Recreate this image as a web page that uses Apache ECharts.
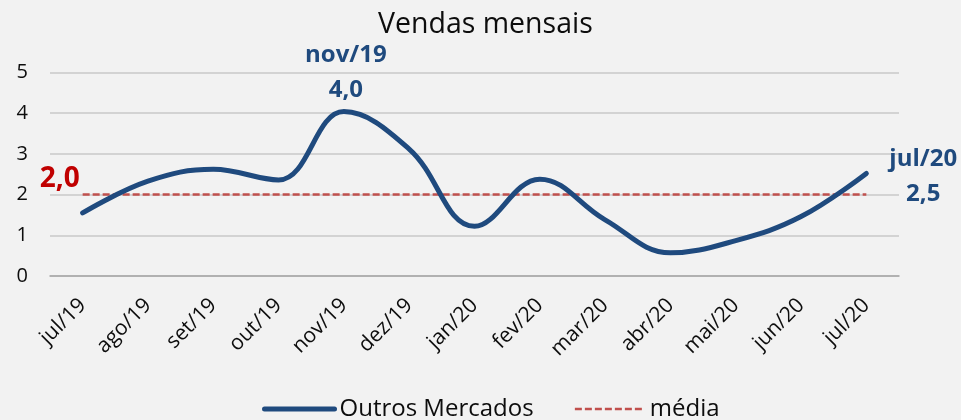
<!DOCTYPE html>
<html>
<head>
<meta charset="utf-8">
<script src="https://cdn.jsdelivr.net/npm/echarts@6/dist/echarts.min.js"></script>
<style>
html,body{margin:0;padding:0;background:#f2f2f2;}
#chart{width:961px;height:420px;}
</style>
</head>
<body>
<div id="chart"></div>
<script>
const categories = ['jul/19','ago/19','set/19','out/19','nov/19','dez/19','jan/20','fev/20','mar/20','abr/20','mai/20','jun/20','jul/20'];
const outrosMercados = [1.55, 2.33, 2.62, 2.36, 4.04, 3.12, 1.22, 2.38, 1.38, 0.57, 0.87, 1.46, 2.52];
const media = [2.0, 2.0, 2.0, 2.0, 2.0, 2.0, 2.0, 2.0, 2.0, 2.0, 2.0, 2.0, 2.0];
const yTicks = [0, 1, 2, 3, 4, 5];

const FONT = 'Open Sans';
const BLUE = '#1f4a7e';
const fmt = v => v.toFixed(1).replace('.', ',');

const chart = echarts.init(document.getElementById('chart'), null, {renderer: 'canvas'});

const blueData = outrosMercados.map((v, i) => {
  if (i === 4) {
    return {value: v, label: {show: true, position: 'top', distance: 4, offset: [2, 0],
      formatter: () => '{a|' + categories[i] + '}\n{a|' + fmt(v) + '}'}};
  }
  if (i === outrosMercados.length - 1) {
    return {value: v, label: {show: true, position: 'right', distance: 23, offset: [0, 3],
      formatter: () => '{a|' + categories[i] + '}\n{a|' + fmt(v) + '}'}};
  }
  return v;
});

const redData = media.map((v, i) => {
  if (i === 0) {
    return {value: v, label: {show: true, position: 'left', distance: 3, offset: [0, -16],
      formatter: () => fmt(v), color: '#c00000', fontSize: 28, fontWeight: 'bold', fontFamily: FONT}};
  }
  return v;
});

chart.setOption({
  backgroundColor: '#f2f2f2',
  animation: false,
  textStyle: {fontFamily: FONT},
  title: {
    text: 'Vendas mensais',
    left: 373,
    top: 5,
    textStyle: {fontFamily: FONT, fontSize: 28.5, fontWeight: 'normal', color: '#0d0d0d'}
  },
  legend: {
    bottom: -6,
    left: 257,
    itemWidth: 70,
    itemHeight: 14,
    itemGap: 40,
    itemStyle: {opacity: 0, borderWidth: 0},
    textStyle: {fontFamily: FONT, fontSize: 24, color: '#0d0d0d'},
    data: [
      {name: 'Outros Mercados', lineStyle: {width: 5}},
      {name: 'média', lineStyle: {width: 2.5}}
    ]
  },
  grid: {left: 50, right: 62, top: 72.5, bottom: 144, containLabel: false},
  xAxis: {
    type: 'category',
    data: categories,
    boundaryGap: true,
    axisLine: {show: true, lineStyle: {color: '#a6a6a6', width: 1.5}},
    axisTick: {show: false},
    axisLabel: {rotate: 45, margin: 26, interval: 0, fontFamily: FONT, fontSize: 21, color: '#0d0d0d'}
  },
  yAxis: {
    type: 'value',
    min: yTicks[0],
    max: yTicks[yTicks.length - 1],
    interval: 1,
    axisLine: {show: false},
    axisTick: {show: false},
    axisLabel: {margin: 22, fontFamily: FONT, fontSize: 20, color: '#0d0d0d'},
    splitLine: {lineStyle: {color: '#c8c8c8', width: 1.5}}
  },
  series: [
    {
      name: 'Outros Mercados',
      type: 'line',
      data: blueData,
      smooth: 0.4,
      symbol: 'circle',
      symbolSize: 0,
      showSymbol: true,
      lineStyle: {color: BLUE, width: 5, cap: 'round'},
      itemStyle: {color: BLUE},
      label: {
        show: false,
        rich: {a: {fontFamily: FONT, fontSize: 24, fontWeight: 'bold', color: BLUE, lineHeight: 35, align: 'center'}}
      },
      z: 3
    },
    {
      name: 'média',
      type: 'line',
      data: redData,
      symbol: 'circle',
      symbolSize: 0,
      showSymbol: true,
      lineStyle: {color: '#c0504d', width: 2.5, type: [7, 3]},
      itemStyle: {color: '#c0504d'},
      label: {show: false},
      z: 2
    }
  ]
});
</script>
</body>
</html>
